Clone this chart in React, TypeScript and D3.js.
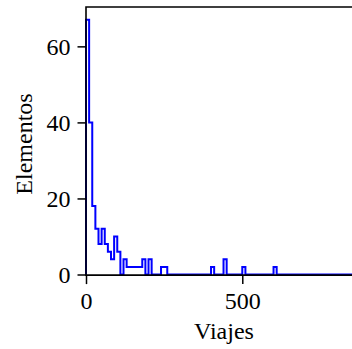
import React, { useEffect, useRef } from 'react';
import * as d3 from 'd3';

// histogram: bins of 10 trips each, starting at 0
const binWidth = 10;
const counts = [
  67, 40, 18, 12, 8, 12, 8, 6, 4, 10,
  6, 0, 4, 2, 2, 2, 2, 2, 4, 0,
  4, 0, 0, 0, 2, 2, 0, 0, 0, 0,
  0, 0, 0, 0, 0, 0, 0, 0, 0, 0,
  2, 0, 0, 0, 4, 0, 0, 0, 0, 0,
  2, 0, 0, 0, 0, 0, 0, 0, 0, 0,
  2, 0, 0, 0, 0, 0, 0, 0, 0, 0,
  0, 0, 0, 0, 0, 0, 0, 0, 0, 0,
  0, 0, 0, 0, 0, 0, 0, 0,
];
const xTicks = [0, 500];
const yTicks = [0, 20, 40, 60];
const xLabel = 'Viajes';
const yLabel = 'Elementos';

const FONT = '"Liberation Serif", "DejaVu Serif", serif';

export default function App() {
  const ref = useRef<SVGSVGElement>(null);

  useEffect(() => {
    const width = 352;
    const height = 349;
    const margin = { top: 7, right: -10, bottom: 74.5, left: 86 };

    const svg = d3.select(ref.current)
      .attr('width', width)
      .attr('height', height);

    svg.selectAll('*').remove();

    const x = d3.scaleLinear()
      .domain([0, 883])
      .range([margin.left, width - margin.right]);

    const yMax = (d3.max(counts) as number) * 1.05;
    const y = d3.scaleLinear()
      .domain([0, yMax])
      .range([height - margin.bottom, margin.top]);

    // step outline like histtype='step'
    const pts: [number, number][] = [[0, 0]];
    counts.forEach((c, i) => {
      pts.push([i * binWidth, c]);
      pts.push([(i + 1) * binWidth, c]);
    });
    pts.push([counts.length * binWidth, 0]);

    const line = d3.line<[number, number]>()
      .x(d => x(d[0]))
      .y(d => y(d[1]));

    svg.append('path')
      .attr('d', line(pts))
      .attr('fill', 'none')
      .attr('stroke', '#0000ff')
      .attr('stroke-width', 2)
      .attr('stroke-linejoin', 'miter');

    // y axis
    const yAxis = svg.append('g')
      .attr('transform', `translate(${margin.left},0)`)
      .call(d3.axisLeft(y).tickValues(yTicks).tickSize(8.5).tickPadding(7).tickFormat(d3.format('d')));
    yAxis.select('.domain').remove();
    yAxis.selectAll('line').attr('stroke', '#000').attr('stroke-width', 1.5);
    yAxis.selectAll('text')
      .attr('fill', '#000')
      .attr('font-family', FONT)
      .attr('font-size', 24)
      .attr('dy', '0.33em');

    // x axis
    const xAxis = svg.append('g')
      .attr('transform', `translate(0,${y(0) + 0.6})`)
      .call(d3.axisBottom(x).tickValues(xTicks).tickSize(9).tickPadding(8).tickFormat(d3.format('d')));
    xAxis.select('.domain').remove();
    xAxis.selectAll('line').attr('stroke', '#000').attr('stroke-width', 1.5);
    xAxis.selectAll('text')
      .attr('fill', '#000')
      .attr('font-family', FONT)
      .attr('font-size', 24);

    // spines: left, bottom, top
    const x0 = margin.left;
    const x1 = width - margin.right;
    const yb = y(0) + 0.6;
    const yt = margin.top;
    svg.append('path')
      .attr('d', `M${x1},${yt}H${x0}V${yb}H${x1}`)
      .attr('fill', 'none')
      .attr('stroke', '#000')
      .attr('stroke-width', 1.6)
      .attr('stroke-linecap', 'square');

    // labels
    svg.append('text')
      .attr('x', 224)
      .attr('y', 339)
      .attr('text-anchor', 'middle')
      .attr('font-family', FONT)
      .attr('font-size', 24)
      .text(xLabel);

    svg.append('text')
      .attr('transform', 'translate(32,144) rotate(-90)')
      .attr('text-anchor', 'middle')
      .attr('font-family', FONT)
      .attr('font-size', 24)
      .text(yLabel);
  }, []);

  return <svg ref={ref} style={{ position: 'absolute', left: 0, top: 0, background: '#fff' }} />;
}
